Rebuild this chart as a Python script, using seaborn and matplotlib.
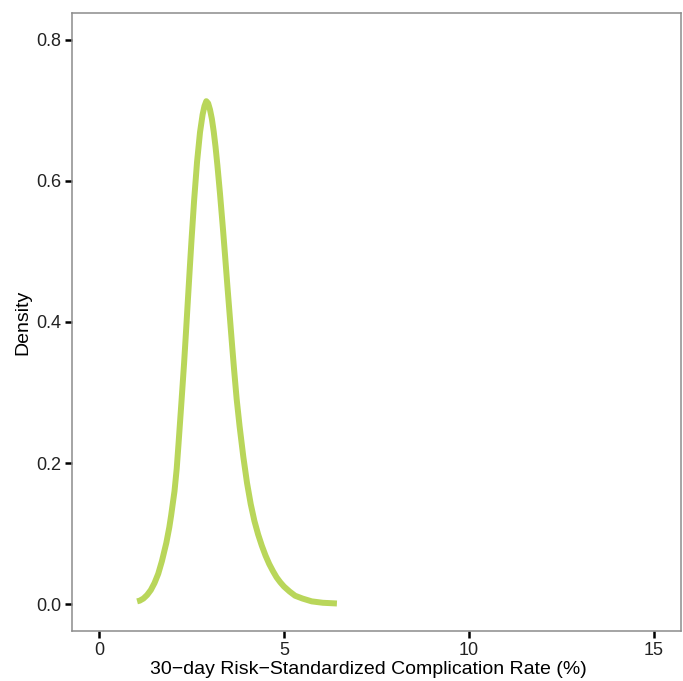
import matplotlib
matplotlib.use("Agg")
import matplotlib.pyplot as plt
import seaborn as sns
import pandas as pd

# Density curve
rate = [1.03, 1.10, 1.20, 1.30, 1.40, 1.50, 1.60, 1.70, 1.82, 1.90, 1.95, 2.00, 2.04,
        2.10, 2.15, 2.23, 2.30, 2.35, 2.41, 2.46, 2.50, 2.57, 2.65, 2.73, 2.80, 2.85, 2.90,
        2.95, 3.00, 3.05, 3.10, 3.15, 3.20, 3.27, 3.35, 3.41, 3.47, 3.55, 3.60, 3.65, 3.72,
        3.80, 3.90, 4.00, 4.10, 4.20, 4.30, 4.40, 4.50, 4.60, 4.70, 4.80, 4.90, 5.00,
        5.15, 5.30, 5.50, 5.75, 6.05, 6.43]
density = [0.004, 0.005, 0.008, 0.013, 0.020, 0.030, 0.043, 0.061, 0.087, 0.109, 0.126, 0.145, 0.160,
           0.192, 0.228, 0.288, 0.342, 0.385, 0.438, 0.482, 0.516, 0.572, 0.627, 0.669, 0.694, 0.706, 0.713,
           0.710, 0.701, 0.688, 0.670, 0.648, 0.622, 0.582, 0.532, 0.492, 0.451, 0.398, 0.365, 0.333, 0.291,
           0.252, 0.209, 0.172, 0.142, 0.118, 0.099, 0.083, 0.069, 0.057, 0.047, 0.038, 0.031, 0.025,
           0.018, 0.012, 0.008, 0.004, 0.002, 0.001]

x_ticks = [0, 5, 10, 15]
y_ticks = [0.0, 0.2, 0.4, 0.6, 0.8]
y_tick_labels = ["0.0", "0.2", "0.4", "0.6", "0.8"]

xlabel = "30\u2212day Risk\u2212Standardized Complication Rate (%)"
ylabel = "Density"

df = pd.DataFrame({"rate": rate, "density": density})

sns.set_style("white")
plt.rcParams["font.family"] = ["Liberation Sans", "DejaVu Sans"]

fig = plt.figure(figsize=(6.83, 6.81), dpi=100)
ax = fig.add_axes([72 / 683, 1 - 631 / 681, (681 - 72) / 683, (631 - 13) / 681])

sns.lineplot(data=df, x="rate", y="density", ax=ax, color="#b9d65a",
             linewidth=4.3, solid_capstyle="butt", solid_joinstyle="round", sort=False)

ax.set_xlim(-0.73, 15.73)
ax.set_ylim(-0.038, 0.838)
ax.set_xticks(x_ticks)
ax.set_xticklabels([str(t) for t in x_ticks])
ax.set_yticks(y_ticks)
ax.set_yticklabels(y_tick_labels)

for s in ax.spines.values():
    s.set_visible(True)
    s.set_color("#8c8c8c")
    s.set_linewidth(1.1)

ax.tick_params(axis="both", which="major", direction="out", length=5, width=1.8,
               color="black", labelsize=13, labelcolor="#222222", pad=3,
               bottom=True, left=True)

ax.set_xlabel(xlabel, fontsize=14, color="black", labelpad=1)
ax.xaxis.label.set_x(0.487)
ax.set_ylabel(ylabel, fontsize=14, color="black", labelpad=3)
ax.grid(False)

fig.savefig("out.png", dpi=100)
